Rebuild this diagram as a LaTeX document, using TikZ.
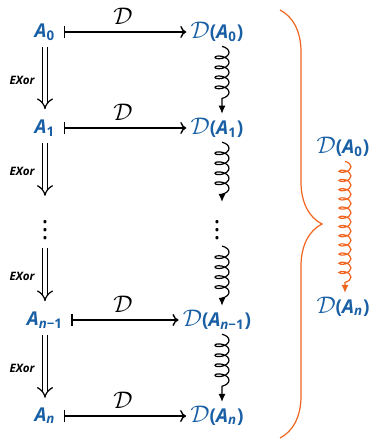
\documentclass[tikz,border=0pt]{standalone}
\usepackage{fontspec}
\setmainfont{Open Sans}
\usetikzlibrary{positioning,calc,arrows.meta,decorations.pathmorphing,decorations.pathreplacing}
\definecolor{objblue}{RGB}{25,95,165}
\definecolor{braceorange}{RGB}{240,100,30}
\newcommand{\Aobj}[1]{{\bfseries\itshape A}\textsubscript{\bfseries #1}}
\newcommand{\Dcal}{{\fontsize{11.5}{12}\selectfont$\mathcal{D}$}}
\newcommand{\Dof}[1]{\Dcal\textbf{(}\Aobj{#1}\textbf{)}}

\begin{document}
\begin{tikzpicture}[x=0.5pt, y=-0.5pt, node distance=48pt and 86pt, on grid]
    \tikzset{
        obj/.style={text=objblue, font=\fontsize{9.5}{11}\selectfont, inner sep=2pt},
        tag/.style={font=\fontsize{5.8}{7}\selectfont\bfseries\itshape},
        mapsto/.style={draw, line width=0.7pt, shorten <=2pt, {Bar[width=6pt,line width=0.7pt]}-{Computer Modern Rightarrow[length=3pt,width=6pt]}},
        implies/.style={draw, double, double distance=2.2pt, line width=0.6pt, shorten <=1pt, shorten >=3pt, -{Implies}},
        squig/.style={draw, line width=0.6pt, -{Latex[length=4pt,width=3.5pt]}, decorate, decoration={coil, aspect=0.5, amplitude=3.5pt, segment length=5pt, pre length=0pt, post length=3pt}},
        brace/.style={draw=braceorange, line width=0.6pt, decorate, decoration={brace, amplitude=21pt, aspect=0.5}}
    }
    \useasboundingbox (0,0) rectangle (376,442);

    \node[obj] (a0) at (45,32) {\Aobj{0}};
    \node[obj, right=of a0] (da0) {\Dof{0}};
    \node[obj, below=of a0] (a1) {\Aobj{1}};
    \node[obj, right=of a1] (da1) {\Dof{1}};
    \node[below=of a1, inner sep=0pt] (vl) {\fontsize{13}{13}\selectfont$\vdots$};
    \node[right=of vl, inner sep=0pt] (vr) {\fontsize{13}{13}\selectfont$\vdots$};
    \node[obj, below=of vl] (am) {\Aobj{\itshape n\upshape −1}};
    \node[obj, right=of am] (dam) {\Dof{\itshape n\upshape −1}};
    \node[obj, below=of am] (an) {\Aobj{\itshape n}};
    \node[obj, right=of an] (dan) {\Dof{\itshape n}};

    % horizontal maps
    \path[mapsto] (a0) -- node[yshift=8pt] {\Dcal} (da0);
    \path[mapsto] (a1) -- node[yshift=8pt] {\Dcal} (da1);
    \path[mapsto] (am) -- node[yshift=8pt] {\Dcal} (dam);
    \path[mapsto] (an) -- node[yshift=8pt] {\Dcal} (dan);

    % left column
    \path[implies] (a0) -- node[tag, xshift=-11.5pt] {EXor} (a1);
    \path[implies] (a1) -- node[tag, xshift=-11.5pt] {EXor} ([yshift=3pt]vl.north);
    \path[implies] ([yshift=-3pt]vl.south) -- node[tag, xshift=-11.5pt] {EXor} (am);
    \path[implies] (am) -- node[tag, xshift=-11.5pt] {EXor} (an);

    % right column
    \path[squig] ([xshift=2.5pt]da0.south) -- ([xshift=2.5pt]da1.north);
    \path[squig] ([xshift=2.5pt]da1.south) -- ([xshift=2.5pt, yshift=3pt]vr.north);
    \path[squig] ([xshift=2.5pt, yshift=-3pt]vr.south) -- ([xshift=2.5pt]dam.north);
    \path[squig] ([xshift=2.5pt]dam.south) -- ([xshift=2.5pt]dan.north);

    % brace and summary
    \coordinate (bt) at ($(da0)+(63,-22)$);
    \coordinate (bb) at ($(dan)+(63,22)$);
    \path[brace] (bt) -- (bb);
    \coordinate (bm) at ($(bt)!0.5!(bb)$);
    \node[obj] (d0r) at ($(bm)+(63,-77)$) {\Dof{0}};
    \node[obj] (dnr) at ($(bm)+(63,83)$) {\Dof{\itshape n}};
    \path[squig, draw=braceorange, decoration={segment length=4.6pt, amplitude=3pt}] ([xshift=1pt]d0r.south) -- ([xshift=1pt]dnr.north);
\end{tikzpicture}
\end{document}
